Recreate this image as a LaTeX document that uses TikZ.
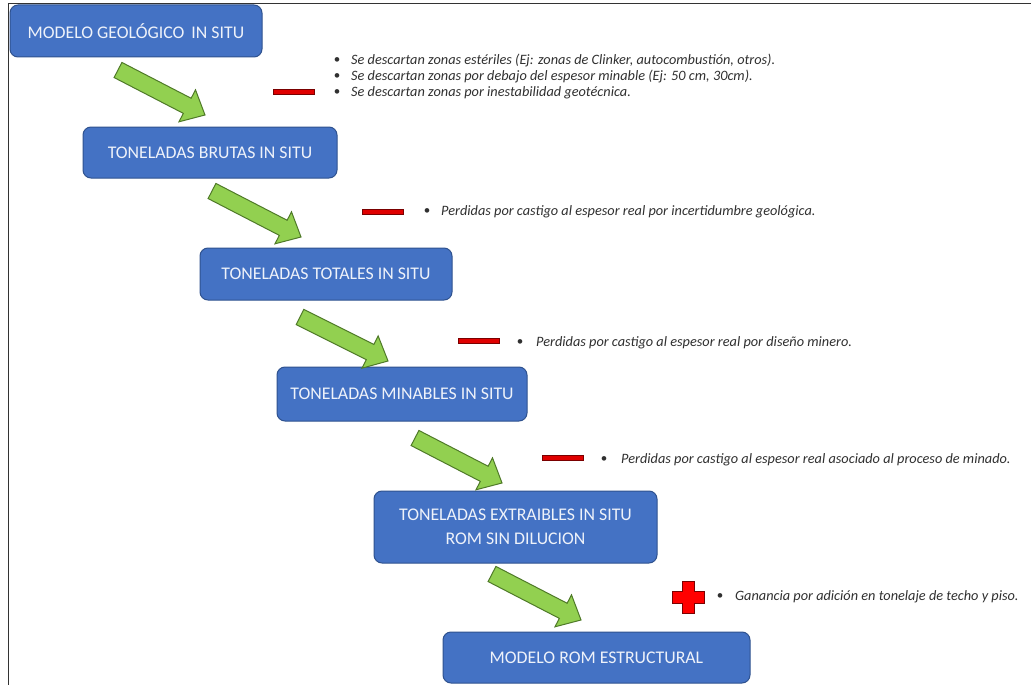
\documentclass[tikz,border=0pt]{standalone}
\usepackage{fontspec}
\setmainfont{Carlito}
\usetikzlibrary{calc}

\definecolor{boxblue}{HTML}{4472C4}
\definecolor{boxedge}{HTML}{2F528F}
\definecolor{boxtext}{HTML}{EEF2FA}
\definecolor{arrowgreen}{HTML}{92D050}
\definecolor{arrowedge}{HTML}{4F7A28}
\definecolor{minusred}{HTML}{E00000}
\definecolor{minusedge}{HTML}{7A0000}
\definecolor{crossred}{HTML}{FF0000}
\definecolor{notegray}{HTML}{303030}

\tikzset{
  stage/.style={draw=boxedge, line width=1pt, fill=boxblue, rounded corners=8pt,
    text=boxtext, font=\fontsize{17.8}{24}\selectfont, align=center, inner sep=0pt},
  note/.style={anchor=west, inner sep=0pt, text=notegray,
    font=\fontsize{14.3}{16}\selectfont\itshape},
  dot/.style={inner sep=0pt, text=notegray, font=\fontsize{13}{15}\selectfont},
  minusbar/.style={draw=minusedge, line width=0.8pt, fill=minusred,
    minimum width=41pt, minimum height=5pt, inner sep=0pt},
  blockarrow/.style={fill=arrowgreen, draw=arrowedge, line width=1pt, line join=miter},
}

% green block arrow from tail coordinate #1 to tip coordinate #2
\newcommand\flowarrow[2]{%
  \coordinate (#1-head) at ($(#2)!20pt!(#1)$);
  \filldraw[blockarrow]
    ($(#1)!8.5pt!90:(#2)$) --
    ($(#1-head)!8.5pt!-90:(#1)$) --
    ($(#1-head)!18pt!-90:(#1)$) --
    (#2) --
    ($(#1-head)!18pt!90:(#1)$) --
    ($(#1-head)!8.5pt!90:(#1)$) --
    ($(#1)!8.5pt!-90:(#2)$) -- cycle;
}

\begin{document}
\begin{tikzpicture}[x=1pt, y=-1pt]
  \useasboundingbox (0,0) rectangle (1031,685);
  \fill[white] (0,0) rectangle (1031,685);

  % frame
  \draw[line width=1.5pt, black!80] (8.5,685) -- (8.5,3.5) -- (1031,3.5);

  % stages
  \node[stage, minimum width=252pt, minimum height=52pt] (s1) at (136,31)
    {MODELO GEOLÓGICO\hspace{0.4em}IN SITU};
  \node[stage, minimum width=254pt, minimum height=51pt] (s2) at (210,152.5)
    {TONELADAS BRUTAS IN SITU};
  \node[stage, minimum width=252pt, minimum height=52pt] (s3) at (326,274)
    {TONELADAS TOTALES IN SITU};
  \node[stage, minimum width=250pt, minimum height=54pt] (s4) at (402,394)
    {TONELADAS MINABLES IN SITU};
  \node[stage, minimum width=283pt, minimum height=72pt] (s5) at (515.5,527)
    {TONELADAS EXTRAIBLES IN SITU\\ROM SIN DILUCION};
  \node[stage, minimum width=307pt, minimum height=51pt] (s6) at (596.5,657.5)
    {MODELO ROM ESTRUCTURAL};

  % arrow ends between the stages
  \coordinate (a1) at (118,70);   \coordinate (b1) at (205,115);
  \coordinate (a2) at (212,191);  \coordinate (b2) at (301,237);
  \coordinate (a3) at (300,317);  \coordinate (b3) at (388,361);
  \coordinate (a4) at (415,438);  \coordinate (b4) at (502,483);
  \coordinate (a5) at (492,574);  \coordinate (b5) at (581,620);
  \flowarrow{a1}{b1}
  \flowarrow{a2}{b2}
  \flowarrow{a3}{b3}
  \flowarrow{a4}{b4}
  \flowarrow{a5}{b5}

  % losses after the geological model
  \node[minusbar] (m1) at (293.5,92) {};
  \node[dot] (d11) at (337,61) {•};
  \node[dot] (d12) at (337,77) {•};
  \node[dot] (d13) at (337,93) {•};
  \node[note] (n11) at (351,61) {Se descartan zonas estériles (Ej: zonas de Clinker, autocombustión, otros).};
  \node[note] (n12) at (351,77) {Se descartan zonas por debajo del espesor minable (Ej: 50 cm, 30cm).};
  \node[note] (n13) at (351,93) {Se descartan zonas por inestabilidad geotécnica.};

  \node[minusbar] (m2) at (383,212) {};
  \node[dot] (d2) at (427,212) {•};
  \node[note] (n2) at (441,212) {Perdidas por castigo al espesor real por incertidumbre geológica.};

  \node[minusbar] (m3) at (479,341) {};
  \node[dot] (d3) at (520,343) {•};
  \node[note] (n3) at (536,343) {Perdidas por castigo al espesor real por diseño minero.};

  \node[minusbar] (m4) at (563,458) {};
  \node[dot] (d4) at (604,460) {•};
  \node[note] (n4) at (621,460) {Perdidas por castigo al espesor real asociado al proceso de minado.};

  % gain before the structural ROM model
  \filldraw[fill=crossred, draw=minusedge, line width=0.8pt]
    (682,581) -- (694,581) -- (694,591) -- (704,591) -- (704,603) -- (694,603)
    -- (694,613) -- (682,613) -- (682,603) -- (672,603) -- (672,591) -- (682,591) -- cycle;
  \node[dot] (d5) at (720,597) {•};
  \node[note] (n5) at (735,597) {Ganancia por adición en tonelaje de techo y piso.};
\end{tikzpicture}
\end{document}
